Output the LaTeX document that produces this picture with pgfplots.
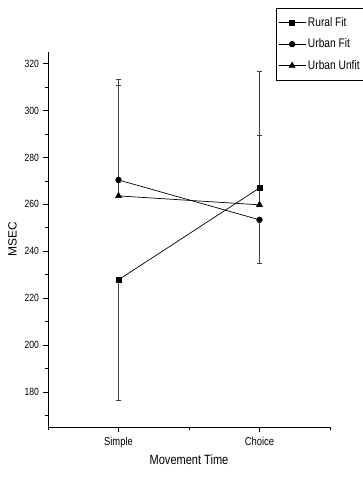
\documentclass[border=0pt]{standalone}
\usepackage{fontspec}
\setmainfont{Liberation Sans}[FakeStretch=0.82]
\newfontfamily\widefont{Liberation Sans}
\usepackage{pgfplots}
\pgfplotsset{compat=1.18}
\begin{document}
\begin{tikzpicture}
\begin{axis}[
  name=ax,
  scale only axis,
  width=282bp, height=375bp,
  xmin=0.5, xmax=2.5, ymin=165, ymax=325,
  axis x line=bottom, axis y line=left,
  axis line style={-, line width=0.8bp},
  tick align=outside,
  xtick={1,2}, xticklabels={Simple,Choice},
  minor xtick={0.5,1.5,2.5},
  ytick={180,200,...,320},
  minor ytick={170,190,...,310},
  major tick length=5bp, minor tick length=3bp,
  tick style={black, line width=0.6bp},
  yticklabel style={font=\fontsize{10.5}{12}\selectfont, xshift=-0.5bp},
  xticklabel style={font=\fontsize{11.5}{13}\selectfont, yshift=-2bp},
  /pgf/number format/assume math mode=true,
  xlabel={Movement Time},
  xlabel style={font=\fontsize{13.5}{15}\selectfont, yshift=0bp},
  ylabel={MSEC},
  ylabel style={font=\widefont\fontsize{12}{14}\selectfont, yshift=1bp},
  legend style={at={(rel axis cs:0.8085,1.117)}, anchor=north west, draw=black, line width=0.6bp,
    font=\fontsize{12.5}{14}\selectfont, row sep=7bp, inner xsep=2bp, inner ysep=7bp,
    legend cell align=left},
  legend image code/.code={\draw[mark repeat=2,mark phase=2] plot coordinates {(0bp,0bp) (13.5bp,0bp) (27bp,0bp)};},
  error bars/error bar style={black!75, line width=0.6bp},
  error bars/error mark options={rotate=90, mark size=2.5bp, black!75, line width=0.6bp},
]
\addplot+[black, line width=0.7bp, mark=square*, mark size=2.6bp, mark options={fill=black},
  error bars/.cd, y dir=both, y explicit]
  coordinates {(1,227.8) -= (0,51.2) (2,267.0) += (0,49.6)};
\addlegendentry{Rural Fit}
\addplot+[black, line width=0.7bp, mark=*, mark size=2.8bp, mark options={fill=black},
  error bars/.cd, y dir=both, y explicit]
  coordinates {(1,270.4) += (0,42.8) (2,253.4) -= (0,18.4)};
\addlegendentry{Urban Fit}
\addplot+[black, line width=0.7bp, mark=triangle*, mark size=3.4bp, mark options={fill=black},
  error bars/.cd, y dir=both, y explicit]
  coordinates {(1,263.6) += (0,47.2) (2,259.8) += (0,29.6)};
\addlegendentry{Urban Unfit}
\end{axis}
\pgfresetboundingbox
\path[use as bounding box] (ax.south west) ++(-48bp,-54bp) rectangle ++(363bp,481bp);
\end{tikzpicture}
\end{document}
